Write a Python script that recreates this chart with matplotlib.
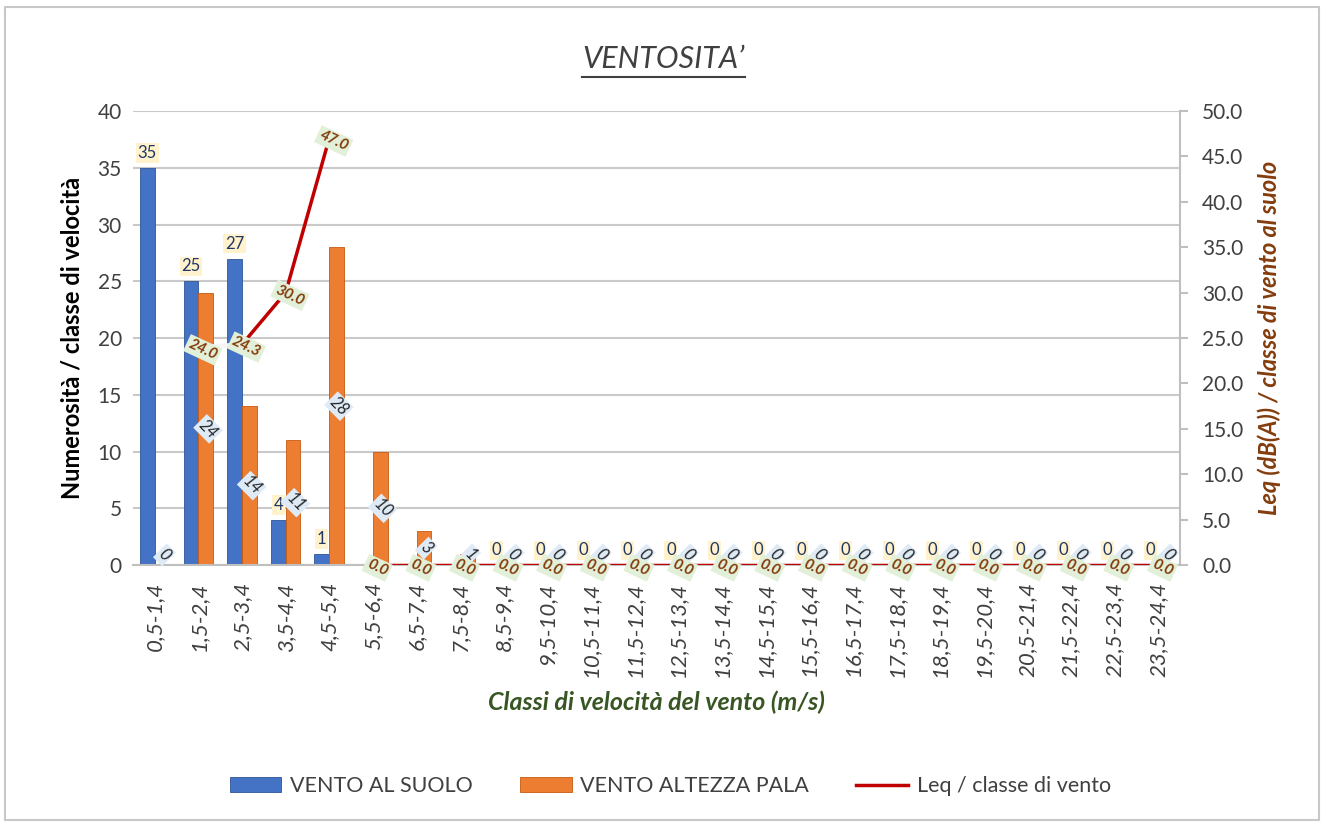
import numpy as np
import matplotlib.pyplot as plt
from matplotlib.lines import Line2D
from matplotlib.patches import Rectangle

plt.rcParams['font.family'] = ['Lato', 'DejaVu Sans']

classes = ["0,5-1,4", "1,5-2,4", "2,5-3,4", "3,5-4,4", "4,5-5,4", "5,5-6,4",
           "6,5-7,4", "7,5-8,4", "8,5-9,4", "9,5-10,4", "10,5-11,4", "11,5-12,4",
           "12,5-13,4", "13,5-14,4", "14,5-15,4", "15,5-16,4", "16,5-17,4",
           "17,5-18,4", "18,5-19,4", "19,5-20,4", "20,5-21,4", "21,5-22,4",
           "22,5-23,4", "23,5-24,4"]
vento_suolo = [35, 25, 27, 4, 1, 0, 0, 0] + [0] * 16
vento_pala = [0, 24, 14, 11, 28, 10, 3, 1] + [0] * 16
leq = [np.nan, 24.0, 24.3, 30.0, 47.0] + [0.0] * 19

blue = "#4472C4"
orange = "#ED7D31"
red = "#C00000"

fig = plt.figure(figsize=(13.27, 8.25), dpi=100)
fig.patches.append(Rectangle((0.004, 0.006), 0.99, 0.985, transform=fig.transFigure,
                             fill=False, edgecolor="#c8c8c8", lw=1.5))
ax = fig.add_axes([0.1002, 0.315, 0.789, 0.5505])
ax2 = ax.twinx()

x = np.arange(len(classes))
w = 0.34
b1 = ax.bar(x - w / 2, vento_suolo, w, color=blue, edgecolor="#2F5597", lw=0.6,
            label="VENTO AL SUOLO", zorder=2)
b2 = ax.bar(x + w / 2, vento_pala, w, color=orange, edgecolor="#C55A11", lw=0.6,
            label="VENTO ALTEZZA PALA", zorder=2)

ax.set_xlim(-0.5, len(classes) - 0.5)
ax.set_ylim(0, 40)
ax.set_yticks(range(0, 41, 5))
ax.yaxis.grid(True, color="#c9c9c9", lw=1.5, zorder=0)
ax.set_axisbelow(True)
for s in ["top", "left", "right"]:
    ax.spines[s].set_visible(False)
ax.spines["bottom"].set_color("#bfbfbf")
ax.spines["bottom"].set_linewidth(1.5)
ax.tick_params(axis="y", length=0, labelsize=15, labelcolor="#404040", pad=8)
ax.tick_params(axis="x", length=0, pad=12)
ax.set_xticks(x)
ax.set_xticklabels(classes, rotation=90, style="italic", fontsize=16, color="#404040")

# Leq line (right axis)
ax2.plot(x[1:3], leq[1:3], color="#f4f4f4", lw=3, zorder=3)
ax2.plot(x[2:5], leq[2:5], color=red, lw=2.5, zorder=3)
ax2.plot(x[5:], leq[5:], color=red, lw=2.5, zorder=3)
ax2.set_ylim(0, 50)
ax2.set_yticks(np.arange(0, 50.1, 5))
ax2.set_yticklabels([f"{v:.1f}" for v in np.arange(0, 50.1, 5)])
for s in ["top", "left", "bottom"]:
    ax2.spines[s].set_visible(False)
ax2.spines["right"].set_color("#bfbfbf")
ax2.spines["right"].set_linewidth(1.5)
ax2.tick_params(axis="y", length=6, color="#bfbfbf", width=1.5, labelsize=15,
                labelcolor="#404040", pad=10)

# data labels
for i, v in enumerate(vento_suolo):
    if 5 <= i <= 7:
        continue
    ax.text(x[i] - w / 2, v + 0.6, f"{v}", ha="center", va="bottom", fontsize=12,
            color="#203864", zorder=5,
            bbox=dict(boxstyle="square,pad=0.1", fc="#FFF2CC", ec="none"))
for i, v in enumerate(vento_pala):
    yy = v / 2 if v > 1 else 0.9
    ax.text(x[i] + w / 2 + 0.05, yy, f"{v}", ha="center", va="center", fontsize=12,
            color="#262626", rotation=-45, style="italic", zorder=5,
            bbox=dict(boxstyle="square,pad=0.1", fc="#DEEBF7", ec="none"))
for i, v in enumerate(leq):
    if np.isnan(v):
        continue
    ax2.text(x[i] + 0.1, v - 0.3, f"{v:.1f}", ha="center", va="center", fontsize=11,
             color="#843C0C", rotation=-25, style="italic", fontweight="bold", zorder=6,
             bbox=dict(boxstyle="square,pad=0.15", fc="#E2F0D9", ec="none"))

ax.set_ylabel("Numerosità / classe di velocità", fontsize=17, fontweight="bold",
              color="black", labelpad=10)
ax2.set_ylabel("Leq (dB(A)) / classe di vento al suolo", fontsize=17, fontweight="bold",
               style="italic", color="#843C0C", labelpad=10)
ax.set_xlabel("Classi di velocità del vento (m/s)", fontsize=18, fontweight="bold",
              style="italic", color="#375623", labelpad=10)

title = fig.text(0.5, 0.928, "VENTOSITA\u2019", ha="center", va="center", fontsize=22,
                 style="italic", color="#404040")
fig.canvas.draw()
bb = title.get_window_extent().transformed(fig.transFigure.inverted())
fig.add_artist(Line2D([bb.x0, bb.x1], [bb.y0 - 0.004, bb.y0 - 0.004],
                      transform=fig.transFigure, color="#404040", lw=1.5))

handles = [b1, b2, Line2D([], [], color=red, lw=2.5)]
fig.legend(handles, ["VENTO AL SUOLO", "VENTO ALTEZZA PALA", "Leq / classe di vento"],
           loc="center", bbox_to_anchor=(0.505, 0.047), ncol=3, frameon=False,
           fontsize=15.5, columnspacing=2.2, handlelength=2.4, handletextpad=0.4,
           labelcolor="#404040")

fig.savefig("out.png", dpi=100)
